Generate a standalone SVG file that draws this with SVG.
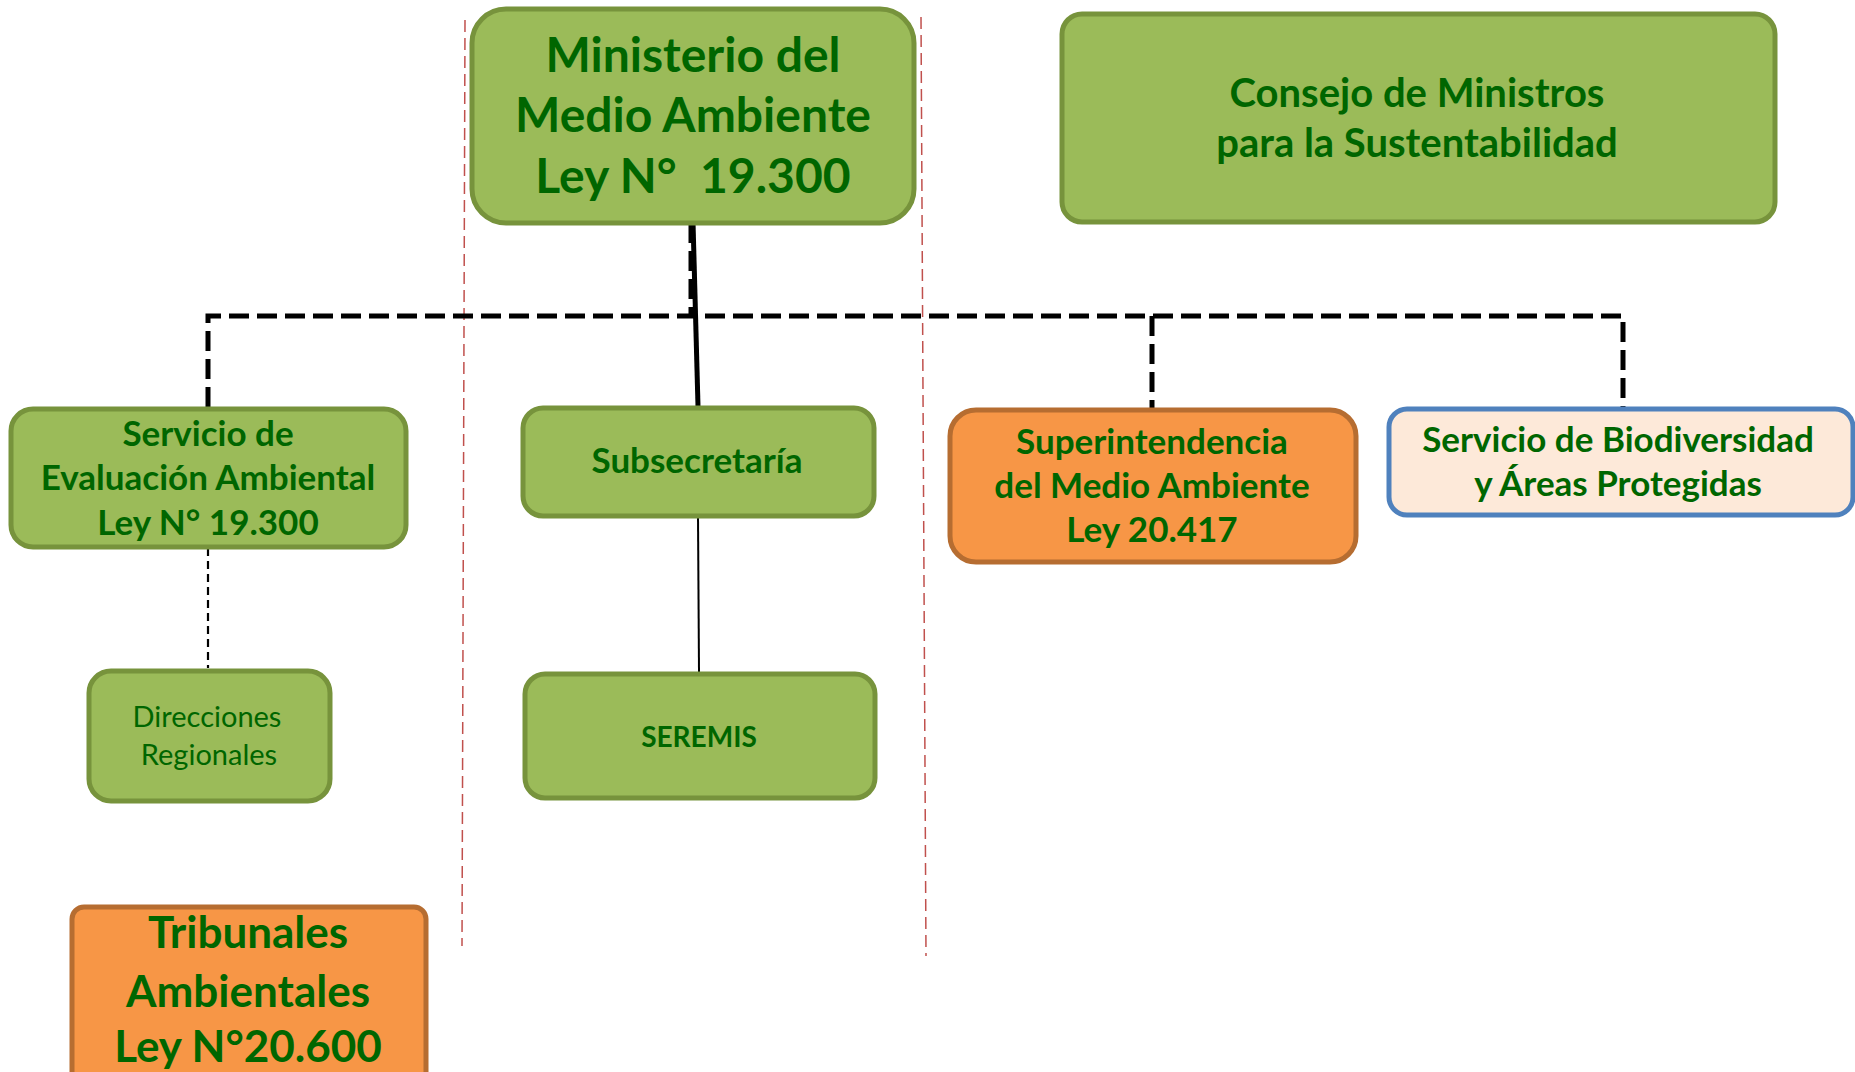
<svg xmlns="http://www.w3.org/2000/svg" width="1855" height="1072" viewBox="0 0 1855 1072">
<style>
  .g{fill:#9BBB59;stroke:#77933C;stroke-width:5}
  .o{fill:#F79646;stroke:#B66D31;stroke-width:5}
  .b{fill:#FDE9D9;stroke:#4F81BD;stroke-width:5}
  text{font-family:Lato,"Open Sans","Liberation Sans",sans-serif;fill:#006600;text-anchor:middle}
  .bd{font-weight:bold}
  .red{stroke:#C0504D;stroke-width:1.5;stroke-dasharray:12 6;fill:none}
  .dash{stroke:#000;stroke-width:5;stroke-dasharray:20 8;fill:none}
</style>
<rect width="1855" height="1072" fill="#fff"/>
<g id="guides">
  <line class="red" x1="465" y1="20" x2="462" y2="946"/>
  <line class="red" x1="921" y1="17" x2="926" y2="956"/>
</g>
<g id="connectors">
  <path class="dash" d="M208,407 V316 H1623 V407"/>
  <path class="dash" d="M691,223 V316"/>
  <path class="dash" d="M1152,316 V408"/>
  <line x1="693" y1="222" x2="698" y2="406" stroke="#000" stroke-width="5"/>
  <line x1="698" y1="517" x2="699" y2="672" stroke="#000" stroke-width="2"/>
  <line x1="208" y1="548" x2="208" y2="668" stroke="#000" stroke-width="2.2" stroke-dasharray="8 5"/>
</g>
<g id="ministerio">
  <rect class="g" x="472" y="9" width="442" height="214" rx="34"/>
  <text class="bd" x="693" y="72" font-size="48">Ministerio del</text>
  <text class="bd" x="693" y="132" font-size="48">Medio Ambiente</text>
  <text class="bd" x="693" y="193" font-size="48" xml:space="preserve">Ley N°  19.300</text>
</g>
<g id="consejo">
  <rect class="g" x="1062" y="14" width="713" height="208" rx="20"/>
  <text class="bd" x="1417" y="107" font-size="40">Consejo de Ministros</text>
  <text class="bd" x="1417" y="157" font-size="40">para la Sustentabilidad</text>
</g>
<g id="sea">
  <rect class="g" x="11" y="409" width="395" height="138" rx="22"/>
  <text class="bd" x="208" y="446" font-size="35">Servicio de</text>
  <text class="bd" x="208" y="490" font-size="35">Evaluación Ambiental</text>
  <text class="bd" x="208" y="535" font-size="35">Ley N° 19.300</text>
</g>
<g id="subsecretaria">
  <rect class="g" x="523" y="408" width="351" height="108" rx="20"/>
  <text class="bd" x="697" y="473" font-size="35">Subsecretaría</text>
</g>
<g id="superintendencia">
  <rect class="o" x="950" y="410" width="406" height="152" rx="26"/>
  <text class="bd" x="1152" y="454" font-size="35">Superintendencia</text>
  <text class="bd" x="1152" y="498" font-size="35">del Medio Ambiente</text>
  <text class="bd" x="1152" y="542" font-size="35">Ley 20.417</text>
</g>
<g id="biodiversidad">
  <rect class="b" x="1389" y="409" width="464" height="106" rx="18"/>
  <text class="bd" x="1618" y="452" font-size="35">Servicio de Biodiversidad</text>
  <text class="bd" x="1618" y="496" font-size="35">y Áreas Protegidas</text>
</g>
<g id="direcciones">
  <rect class="g" x="89" y="671" width="241" height="130" rx="22"/>
  <text x="207" y="727" font-size="29">Direcciones</text>
  <text x="209" y="765" font-size="29">Regionales</text>
</g>
<g id="seremis">
  <rect class="g" x="525" y="674" width="350" height="124" rx="20"/>
  <text class="bd" x="699" y="747" font-size="28">SEREMIS</text>
</g>
<g id="tribunales">
  <rect class="o" x="72" y="907" width="354" height="190" rx="12"/>
  <text class="bd" x="248" y="948" font-size="44">Tribunales</text>
  <text class="bd" x="248" y="1007" font-size="44">Ambientales</text>
  <text class="bd" x="248" y="1062" font-size="44">Ley N°20.600</text>
</g>
</svg>
